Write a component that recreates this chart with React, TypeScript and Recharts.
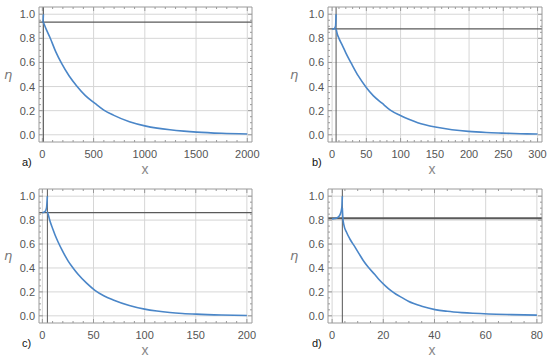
import { LineChart, Line, XAxis, YAxis, ReferenceLine } from 'recharts';

// panel a) x in [0, 2000]
const aDecayX = [10, 40, 75, 130, 189, 260, 335, 420, 514, 600, 693, 850, 1000, 1120, 1246, 1380, 1506, 1750, 2000];
const aDecayEta = [0.934, 0.87, 0.805, 0.69, 0.59, 0.49, 0.405, 0.325, 0.26, 0.205, 0.163, 0.108, 0.074, 0.055, 0.041, 0.03, 0.022, 0.012, 0.006];
const aPeakX = [0, 6, 10];
const aPeakEta = [0.934, 0.94, 1.0];

// panel b) x in [0, 300]
const bDecayX = [5.8, 7.3, 10, 14.6, 20, 29.2, 38, 49.6, 60, 72.9, 85, 99.7, 112, 125, 150.7, 175, 199, 225, 248, 275, 300];
const bDecayEta = [0.88, 0.84, 0.8, 0.746, 0.68, 0.58, 0.49, 0.395, 0.325, 0.262, 0.205, 0.16, 0.128, 0.1, 0.064, 0.042, 0.028, 0.019, 0.014, 0.009, 0.006];
const bPeakX = [0, 3, 5, 5.8];
const bPeakEta = [0.878, 0.88, 0.9, 1.0];

// panel c) x in [0, 200]
const cDecayX = [4.9, 5.9, 7.5, 10, 12.4, 15.5, 18.9, 22, 25.4, 30, 35.1, 43, 51.4, 60, 69.3, 85, 100, 112, 124.6, 137, 150.6, 175, 200];
const cDecayEta = [0.87, 0.84, 0.79, 0.73, 0.675, 0.615, 0.555, 0.505, 0.455, 0.4, 0.345, 0.275, 0.213, 0.168, 0.133, 0.087, 0.056, 0.04, 0.028, 0.02, 0.014, 0.007, 0.003];
const cPeakX = [0, 2.5, 4, 4.9];
const cPeakEta = [0.862, 0.87, 0.9, 1.0];

// panel d) x in [0, 80]
const dDecayX = [4, 4.2, 4.6, 5.6, 7, 8.9, 10.5, 12.1, 14, 16.7, 18.5, 20.6, 23, 25, 27.5, 29.8, 35, 40.2, 45, 50.7, 55, 61.1, 70, 80];
const dDecayEta = [0.9, 0.82, 0.76, 0.7, 0.64, 0.576, 0.52, 0.465, 0.41, 0.345, 0.3, 0.255, 0.21, 0.18, 0.15, 0.122, 0.08, 0.052, 0.038, 0.027, 0.021, 0.015, 0.01, 0.006];
const dPeakX = [0, 1, 2, 2.6, 3.2, 3.6, 3.85, 4];
const dPeakEta = [0.81, 0.813, 0.82, 0.83, 0.85, 0.88, 0.92, 1.0];

const aTicks = [0, 500, 1000, 1500, 2000];
const bTicks = [0, 50, 100, 150, 200, 250, 300];
const cTicks = [0, 50, 100, 150, 200];
const dTicks = [0, 20, 40, 60, 80];
const etaTicks = [0, 0.2, 0.4, 0.6, 0.8, 1.0];

const levels = { a: 0.934, b: 0.878, c: 0.862, d: 0.815 };
const singular = { a: 10, b: 5.8, c: 4.9, d: 4 };

const BLUE = '#4a86c8';
const FRAME = '#9a9a9a';
const GRID = '#d6d6d6';
const FONT = '"Liberation Sans", Arial, sans-serif';

const zip = (xs: number[], ys: number[]) => xs.map((x, i) => ({ x, eta: ys[i] }));

const minors = (lo: number, hi: number, step: number) => {
  const out: number[] = [];
  for (let v = lo; v <= hi + step / 2; v += step) out.push(Math.round(v * 1000) / 1000);
  return out;
};

const isMajor = (v: number, majors: number[]) => majors.some((m) => Math.abs(m - v) < 1e-6);

const bottomTick = (majors: number[]) => (props: any) => {
  const { x, y, payload } = props;
  const major = isMajor(payload.value, majors);
  return (
    <g>
      <line x1={x} x2={x} y1={y} y2={y - (major ? 4 : 2)} stroke={FRAME} />
      {major && (
        <text x={x} y={y + 16} textAnchor="middle" fontSize={11} fill="#555" fontFamily={FONT}>
          {String(payload.value)}
        </text>
      )}
    </g>
  );
};

const topTick = (majors: number[]) => (props: any) => {
  const { x, y, payload } = props;
  const major = isMajor(payload.value, majors);
  return <line x1={x} x2={x} y1={y} y2={y + (major ? 4 : 2)} stroke={FRAME} />;
};

const leftTick = (majors: number[]) => (props: any) => {
  const { x, y, payload } = props;
  const major = isMajor(payload.value, majors);
  return (
    <g>
      <line x1={x} x2={x + (major ? 4 : 2)} y1={y} y2={y} stroke={FRAME} />
      {major && (
        <text x={x - 4} y={y + 4} textAnchor="end" fontSize={11} fill="#555" fontFamily={FONT}>
          {payload.value.toFixed(1)}
        </text>
      )}
    </g>
  );
};

const rightTick = (majors: number[]) => (props: any) => {
  const { x, y, payload } = props;
  const major = isMajor(payload.value, majors);
  return <line x1={x} x2={x - (major ? 4 : 2)} y1={y} y2={y} stroke={FRAME} />;
};

interface PanelProps {
  left: number;
  top: number;
  height: number;
  margin: { top: number; right: number; bottom: number; left: number };
  xDomain: [number, number];
  xTicks: number[];
  xMinorStep: number;
  decay: { x: number; eta: number }[];
  peak: { x: number; eta: number }[];
  level: number;
  levelWidth: number;
  xs: number;
  letter: string;
  letterX: number;
  xLabelX: number;
  etaX: number;
}

function Panel(p: PanelProps) {
  const xAll = minors(0, p.xTicks[p.xTicks.length - 1], p.xMinorStep);
  const yAll = minors(0, 1, 0.05);
  const plotMid = p.margin.top + (p.height - p.margin.top - p.margin.bottom) / 2;
  // axes are 1px thick, so the plot box is inset by one pixel on every side
  const m = {
    top: p.margin.top - 1,
    right: p.margin.right - 1,
    bottom: p.margin.bottom - 1,
    left: p.margin.left - 1,
  };
  return (
    <div style={{ position: 'absolute', left: p.left, top: p.top, width: 275, height: p.height }}>
      <LineChart width={275} height={p.height} margin={m}>
        <XAxis
          type="number"
          dataKey="x"
          domain={p.xDomain}
          allowDataOverflow
          ticks={xAll}
          interval={0}
          height={1}
          tickSize={0}
          tickMargin={0}
          tickLine={false}
          axisLine={{ stroke: FRAME }}
          tick={bottomTick(p.xTicks)}
        />
        <XAxis
          xAxisId="top"
          orientation="top"
          type="number"
          dataKey="x"
          domain={p.xDomain}
          allowDataOverflow
          ticks={xAll}
          interval={0}
          height={1}
          tickSize={0}
          tickMargin={0}
          tickLine={false}
          axisLine={{ stroke: FRAME }}
          tick={topTick(p.xTicks)}
        />
        <YAxis
          type="number"
          domain={[-0.06, 1.06]}
          allowDataOverflow
          ticks={yAll}
          interval={0}
          width={1}
          tickSize={0}
          tickMargin={0}
          tickLine={false}
          axisLine={{ stroke: FRAME }}
          tick={leftTick(etaTicks)}
        />
        <YAxis
          yAxisId="right"
          orientation="right"
          type="number"
          domain={[-0.06, 1.06]}
          allowDataOverflow
          ticks={yAll}
          interval={0}
          width={1}
          tickSize={0}
          tickMargin={0}
          tickLine={false}
          axisLine={{ stroke: FRAME }}
          tick={rightTick(etaTicks)}
        />
        {p.xTicks.map((t) => (
          <ReferenceLine key={'gx' + t} x={t} stroke={GRID} />
        ))}
        {etaTicks.map((t) => (
          <ReferenceLine key={'gy' + t} y={t} stroke={GRID} />
        ))}
        <ReferenceLine y={p.level} stroke="#5a5a5a" strokeWidth={p.levelWidth} />
        <ReferenceLine x={p.xs} stroke="#555" strokeWidth={1} />
        <Line
          data={p.peak}
          dataKey="eta"
          type="monotone"
          stroke={BLUE}
          strokeWidth={1.6}
          dot={false}
          isAnimationActive={false}
        />
        <Line
          data={p.decay}
          dataKey="eta"
          type="monotone"
          stroke={BLUE}
          strokeWidth={1.6}
          dot={false}
          isAnimationActive={false}
        />
      </LineChart>
      <div
        style={{
          position: 'absolute',
          left: p.etaX - 10,
          top: plotMid - 10,
          width: 20,
          height: 20,
          lineHeight: '20px',
          textAlign: 'center',
          fontFamily: '"DejaVu Sans", sans-serif',
          fontStyle: 'italic',
          fontSize: 13,
          color: '#777',
        }}
      >
        η
      </div>
      <div
        style={{
          position: 'absolute',
          left: p.xLabelX - 10,
          top: p.height - 19,
          width: 20,
          textAlign: 'center',
          fontFamily: FONT,
          fontSize: 14,
          color: '#888',
        }}
      >
        x
      </div>
      <div
        style={{
          position: 'absolute',
          left: p.letterX,
          top: p.height - 24,
          fontFamily: FONT,
          fontSize: 11,
          color: '#111',
        }}
      >
        {p.letter}
      </div>
    </div>
  );
}

export default function App() {
  return (
    <div style={{ position: 'absolute', left: 0, top: 0, width: 550, height: 361, background: '#fff' }}>
      <Panel
        left={0}
        top={0}
        height={180}
        margin={{ top: 7, right: 23, bottom: 38, left: 39 }}
        xDomain={[-33, 2046]}
        xTicks={aTicks}
        xMinorStep={100}
        decay={zip(aDecayX, aDecayEta)}
        peak={zip(aPeakX, aPeakEta)}
        level={levels.a}
        levelWidth={1.2}
        xs={singular.a}
        letter="a)"
        letterX={22}
        xLabelX={145}
        etaX={8}
      />
      <Panel
        left={275}
        top={0}
        height={180}
        margin={{ top: 7, right: 8, bottom: 38, left: 53 }}
        xDomain={[-6, 306.5]}
        xTicks={bTicks}
        xMinorStep={10}
        decay={zip(bDecayX, bDecayEta)}
        peak={zip(bPeakX, bPeakEta)}
        level={levels.b}
        levelWidth={1.2}
        xs={singular.b}
        letter="b)"
        letterX={37}
        xLabelX={157}
        etaX={19}
      />
      <Panel
        left={0}
        top={180}
        height={181}
        margin={{ top: 9, right: 23, bottom: 38, left: 39 }}
        xDomain={[-3.3, 205]}
        xTicks={cTicks}
        xMinorStep={10}
        decay={zip(cDecayX, cDecayEta)}
        peak={zip(cPeakX, cPeakEta)}
        level={levels.c}
        levelWidth={1.2}
        xs={singular.c}
        letter="c)"
        letterX={22}
        xLabelX={145}
        etaX={8}
      />
      <Panel
        left={275}
        top={180}
        height={181}
        margin={{ top: 9, right: 8, bottom: 38, left: 53 }}
        xDomain={[-1.6, 82]}
        xTicks={dTicks}
        xMinorStep={5}
        decay={zip(dDecayX, dDecayEta)}
        peak={zip(dPeakX, dPeakEta)}
        level={levels.d}
        levelWidth={2}
        xs={singular.d}
        letter="d)"
        letterX={37}
        xLabelX={157}
        etaX={19}
      />
    </div>
  );
}
